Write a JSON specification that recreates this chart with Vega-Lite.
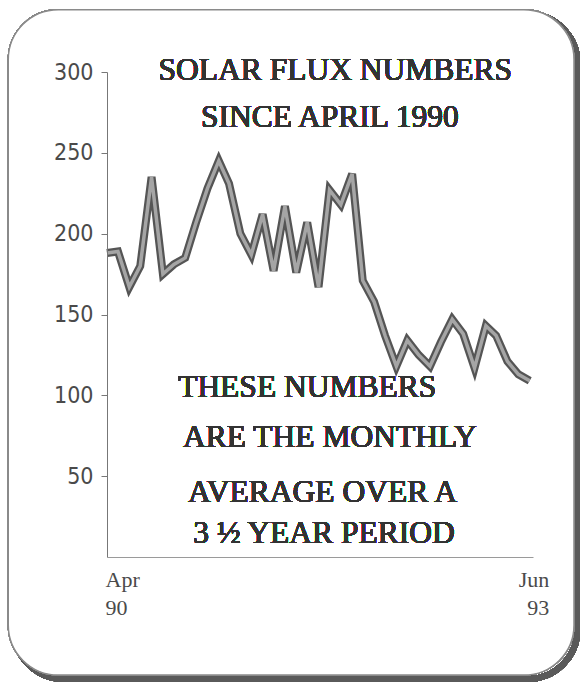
{
  "$schema": "https://vega.github.io/schema/vega-lite/v6.json",
  "autosize": "none",
  "width": 426,
  "height": 485,
  "padding": {"left": 107, "top": 72, "right": 47, "bottom": 128},
  "background": "#ffffff",
  "view": {"stroke": null},
  "data": {"values": [
    {"date": "1990-04-01", "flux": 188},
    {"date": "1990-05-01", "flux": 189},
    {"date": "1990-06-01", "flux": 167},
    {"date": "1990-07-01", "flux": 180},
    {"date": "1990-08-01", "flux": 235},
    {"date": "1990-09-01", "flux": 175},
    {"date": "1990-10-01", "flux": 181},
    {"date": "1990-11-01", "flux": 185},
    {"date": "1990-12-01", "flux": 207},
    {"date": "1991-01-01", "flux": 228},
    {"date": "1991-02-01", "flux": 245},
    {"date": "1991-03-01", "flux": 231},
    {"date": "1991-04-01", "flux": 200},
    {"date": "1991-05-01", "flux": 187},
    {"date": "1991-06-01", "flux": 212},
    {"date": "1991-07-01", "flux": 177},
    {"date": "1991-08-01", "flux": 217},
    {"date": "1991-09-01", "flux": 176},
    {"date": "1991-10-01", "flux": 207},
    {"date": "1991-11-01", "flux": 167},
    {"date": "1991-12-01", "flux": 227},
    {"date": "1992-01-01", "flux": 218},
    {"date": "1992-02-01", "flux": 237},
    {"date": "1992-03-01", "flux": 171},
    {"date": "1992-04-01", "flux": 158},
    {"date": "1992-05-01", "flux": 137},
    {"date": "1992-06-01", "flux": 118},
    {"date": "1992-07-01", "flux": 134},
    {"date": "1992-08-01", "flux": 125},
    {"date": "1992-09-01", "flux": 118},
    {"date": "1992-10-01", "flux": 133},
    {"date": "1992-11-01", "flux": 147},
    {"date": "1992-12-01", "flux": 138},
    {"date": "1993-01-01", "flux": 117},
    {"date": "1993-02-01", "flux": 143},
    {"date": "1993-03-01", "flux": 137},
    {"date": "1993-04-01", "flux": 121},
    {"date": "1993-05-01", "flux": 113},
    {"date": "1993-06-01", "flux": 109}
  ]},
  "encoding": {
    "x": {
      "field": "date", "type": "temporal",
      "scale": {"type": "utc", "domain": [{"year": 1990, "month": 4, "date": 1, "utc": true}, {"year": 1993, "month": 6, "date": 10, "utc": true}]},
      "axis": {
        "title": null, "zindex": 1, "grid": false, "ticks": false,
        "values": [{"year": 1990, "month": 4, "date": 1, "utc": true}, {"year": 1993, "month": 6, "date": 1, "utc": true}],
        "labelExpr": "[utcFormat(datum.value, '%b'), utcFormat(datum.value, '%y')]",
        "labelAlign": {"condition": {"test": "utcmonth(datum.value) == 3", "value": "left"}, "value": "right"},
        "labelOffset": {"condition": {"test": "utcmonth(datum.value) == 3", "value": -2}, "value": 19},
        "labelBaseline": "top", "labelPadding": 12, "labelLineHeight": 28,
        "labelFont": "Liberation Serif", "labelFontSize": 22, "labelColor": "#4a4a4a",
        "labelOverlap": false, "labelBound": false,
        "domainColor": "#9a9a9a", "domainWidth": 1
      }
    },
    "y": {
      "field": "flux", "type": "quantitative",
      "scale": {"domain": [0, 300], "nice": false, "zero": true},
      "axis": {
        "title": null, "zindex": 1, "grid": false,
        "values": [50, 100, 150, 200, 250, 300],
        "tickSize": 6, "tickColor": "#777777", "tickWidth": 1,
        "labelPadding": 8, "labelFont": "DejaVu Sans Condensed, Liberation Sans Narrow, sans-serif",
        "labelFontSize": 23, "labelColor": "#4a4a4a", "labelBaseline": "middle",
        "domainColor": "#777777", "domainWidth": 1
      }
    }
  },
  "layer": [
    {
      "mark": {"type": "rect", "cornerRadius": 50, "fill": null, "stroke": "#5a5a5a", "strokeWidth": 6, "clip": false},
      "encoding": {
        "x": {"datum": {"year": 1989, "month": 7, "date": 20, "utc": true}},
        "x2": {"datum": {"year": 1993, "month": 10, "date": 10, "utc": true}},
        "y": {"datum": 336},
        "y2": {"datum": -75.5}
      }
    },
    {
      "mark": {"type": "rect", "cornerRadius": 50, "fill": "#ffffff", "stroke": "#8a8a8a", "strokeWidth": 1.3, "clip": false},
      "encoding": {
        "x": {"datum": {"year": 1989, "month": 7, "date": 5, "utc": true}},
        "x2": {"datum": {"year": 1993, "month": 9, "date": 30, "utc": true}},
        "y": {"datum": 338.5},
        "y2": {"datum": -73}
      }
    },
    {
      "mark": {"type": "line", "color": "#555555", "strokeWidth": 8, "strokeJoin": "miter", "strokeMiterLimit": 4}
    },
    {
      "mark": {"type": "line", "color": "#a5a5a5", "strokeWidth": 3.5, "strokeJoin": "miter", "strokeMiterLimit": 4}
    },
    {
      "mark": {"type": "text", "font": "Liberation Serif", "fontSize": 31.5, "color": "#333333", "align": "center", "baseline": "alphabetic"},
      "encoding": {
        "x": {"datum": {"year": 1991, "month": 12, "date": 17, "utc": true}},
        "y": {"datum": 295},
        "text": {"value": "SOLAR FLUX NUMBERS"}
      }
    },
    {
      "mark": {"type": "text", "font": "Liberation Serif", "fontSize": 31.5, "color": "#333333", "align": "center", "baseline": "alphabetic"},
      "encoding": {
        "x": {"datum": {"year": 1991, "month": 12, "date": 2, "utc": true}},
        "y": {"datum": 266},
        "text": {"value": "SINCE APRIL 1990"}
      }
    },
    {
      "mark": {"type": "text", "font": "Liberation Serif", "fontSize": 31.5, "color": "#333333", "align": "center", "baseline": "alphabetic"},
      "encoding": {
        "x": {"datum": {"year": 1991, "month": 10, "date": 1, "utc": true}},
        "y": {"datum": 99},
        "text": {"value": "THESE NUMBERS"}
      }
    },
    {
      "mark": {"type": "text", "font": "Liberation Serif", "fontSize": 31.5, "color": "#333333", "align": "center", "baseline": "alphabetic"},
      "encoding": {
        "x": {"datum": {"year": 1991, "month": 12, "date": 2, "utc": true}},
        "y": {"datum": 68},
        "text": {"value": "ARE THE MONTHLY"}
      }
    },
    {
      "mark": {"type": "text", "font": "Liberation Serif", "fontSize": 31.5, "color": "#333333", "align": "center", "baseline": "alphabetic"},
      "encoding": {
        "x": {"datum": {"year": 1991, "month": 11, "date": 12, "utc": true}},
        "y": {"datum": 34},
        "text": {"value": "AVERAGE OVER A"}
      }
    },
    {
      "mark": {"type": "text", "font": "Liberation Serif", "fontSize": 31.5, "color": "#333333", "align": "center", "baseline": "alphabetic"},
      "encoding": {
        "x": {"datum": {"year": 1991, "month": 11, "date": 16, "utc": true}},
        "y": {"datum": 8.7},
        "text": {"value": "3 ½ YEAR PERIOD"}
      }
    }
  ]
}
